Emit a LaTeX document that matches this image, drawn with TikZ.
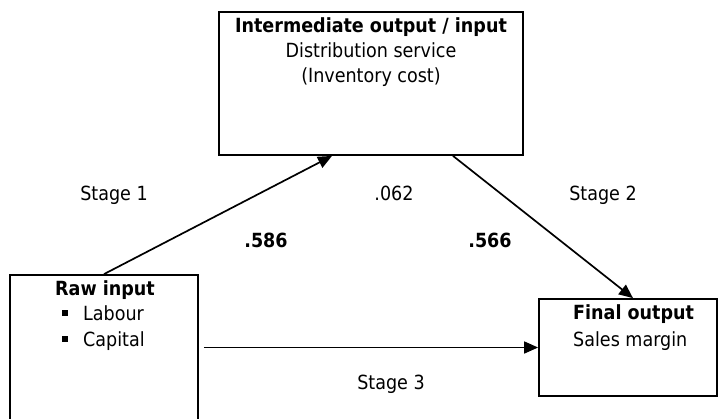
\documentclass[tikz,border=0pt]{standalone}
\usepackage{fontspec}
\setmainfont{DejaVu Sans Condensed}
\usetikzlibrary{arrows.meta}
\begin{document}
\begin{tikzpicture}[x=1pt,y=1pt,
  box/.style={draw=black, line width=1.8pt, fill=white, inner sep=0pt},
  txt/.style={inner sep=0pt, anchor=base, font=\fontsize{19.5}{22}\selectfont},
  btxt/.style={txt, font=\fontsize{19.5}{22}\selectfont\bfseries},
  arr/.style={line width=1.7pt, -{Triangle[length=14pt,width=12pt]}}]
\useasboundingbox (0,0) rectangle (719,-418);
\fill[white] (0,0) rectangle (719,-418);
\begin{scope}
\clip (0,0) rectangle (719,-418);
\node[box, minimum width=304pt, minimum height=143pt] (mid) at (371,-83.5) {};
\node[box, minimum width=188pt, minimum height=150pt] (raw) at (104,-350) {};
\node[box, minimum width=178pt, minimum height=97pt] (fin) at (628,-347.5) {};
\end{scope}
% box texts
\node[btxt] (m1) at (371,-32) {Intermediate output / input};
\node[txt] (m2) at (371,-57) {Distribution service};
\node[txt] (m3) at (371,-82) {(Inventory cost)};
\node[btxt] (r1) at (105,-295) {Raw input};
\node[txt, anchor=base west] (r2) at (62,-320) {\raisebox{4pt}{\rule{6pt}{6pt}}\hspace{15pt}Labour};
\node[txt, anchor=base west] (r3) at (62,-346) {\raisebox{4pt}{\rule{6pt}{6pt}}\hspace{15pt}Capital};
\node[btxt, anchor=base west] (f1) at (573,-319) {Final output};
\node[txt, anchor=base west] (f2) at (573,-346) {Sales margin};
% connectors
\draw[arr] (raw.north) -- ([xshift=-39pt]mid.south);
\draw[arr] ([xshift=82pt]mid.south) -- ([xshift=5pt]fin.north);
\draw[arr] ([xshift=5pt]raw.east |- fin.west) -- (fin.west);
% labels
\node[txt] (s1) at (114,-200) {Stage 1};
\node[btxt] (l586) at (266,-247) {.586};
\node[txt] (l062) at (394,-200) {.062};
\node[btxt] (l566) at (490,-247) {.566};
\node[txt] (s2) at (603,-200) {Stage 2};
\node[txt] (s3) at (391,-389) {Stage 3};
\end{tikzpicture}
\end{document}
